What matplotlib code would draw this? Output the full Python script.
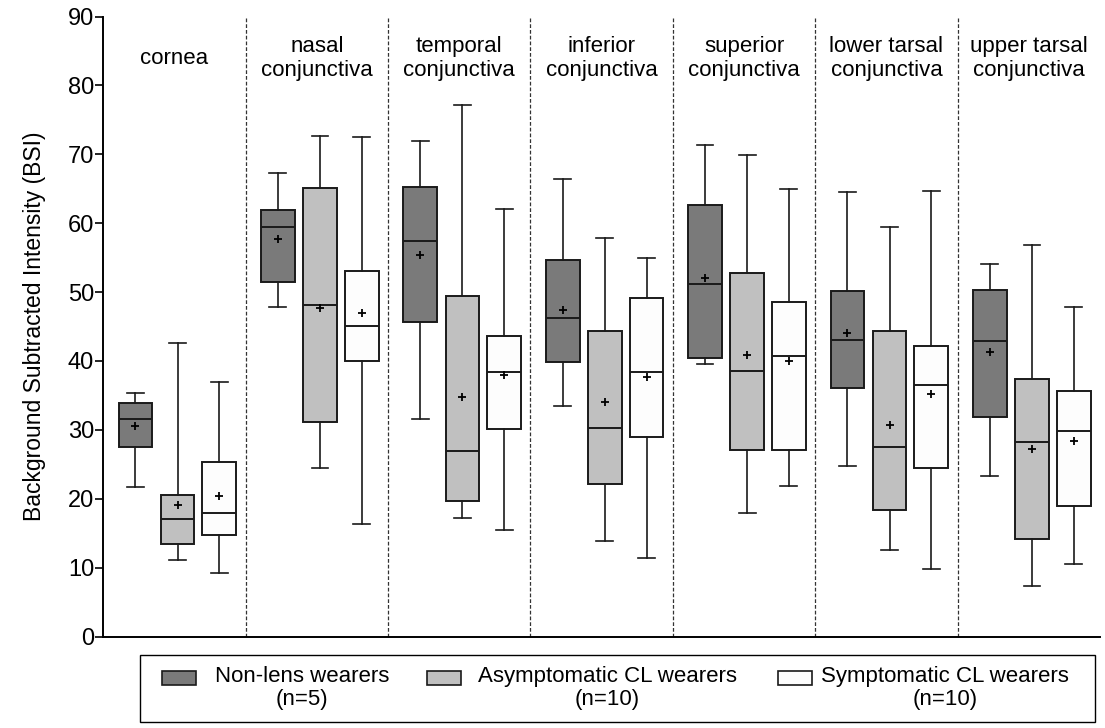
import matplotlib
matplotlib.use("Agg")
import matplotlib.pyplot as plt
from matplotlib.patches import Rectangle

plt.rcParams['font.family'] = ['Liberation Sans', 'DejaVu Sans']

regions = ["cornea", "nasal\nconjunctiva", "temporal\nconjunctiva", "inferior\nconjunctiva",
           "superior\nconjunctiva", "lower tarsal\nconjunctiva", "upper tarsal\nconjunctiva"]

series_names = ["Non-lens wearers\n(n=5)", "Asymptomatic CL wearers\n(n=10)", "Symptomatic CL wearers\n(n=10)"]
series_colors = ["#7a7a7a", "#c0c0c0", "#fdfdfd"]

# Non-lens wearers
nl_low  = [21.7, 47.8, 31.6, 33.4, 39.5, 24.8, 23.3]
nl_q1   = [27.5, 51.4, 45.7, 39.9, 40.5, 36.1, 31.8]
nl_med  = [31.6, 59.4, 57.4, 46.2, 51.1, 43.0, 42.9]
nl_q3   = [33.9, 61.9, 65.3, 54.7, 62.7, 50.2, 50.3]
nl_high = [35.4, 67.3, 71.9, 66.4, 71.4, 64.5, 54.1]
nl_mean = [30.5, 57.7, 55.4, 47.4, 52.0, 44.1, 41.3]

# Asymptomatic CL wearers
as_low  = [11.1, 24.5, 17.2, 13.9, 17.9, 12.6, 7.3]
as_q1   = [13.5, 31.1, 19.6, 22.2, 27.1, 18.3, 14.1]
as_med  = [17.1, 48.1, 27.0, 30.3, 38.6, 27.5, 28.3]
as_q3   = [20.6, 65.1, 49.5, 44.4, 52.8, 44.3, 37.4]
as_high = [42.6, 72.6, 77.2, 57.8, 69.9, 59.4, 56.8]
as_mean = [19.1, 47.7, 34.8, 34.1, 40.9, 30.7, 27.2]

# Symptomatic CL wearers
sy_low  = [9.2, 16.3, 15.5, 11.4, 21.8, 9.8, 10.5]
sy_q1   = [14.8, 40.0, 30.1, 29.0, 27.1, 24.4, 18.9]
sy_med  = [18.0, 45.1, 38.4, 38.4, 40.7, 36.5, 29.9]
sy_q3   = [25.3, 53.0, 43.6, 49.2, 48.6, 42.1, 35.6]
sy_high = [37.0, 72.5, 62.0, 55.0, 64.9, 64.7, 47.9]
sy_mean = [20.4, 46.9, 37.9, 37.6, 40.0, 35.2, 28.4]

series = [
    (nl_low, nl_q1, nl_med, nl_q3, nl_high, nl_mean),
    (as_low, as_q1, as_med, as_q3, as_high, as_mean),
    (sy_low, sy_q1, sy_med, sy_q3, sy_high, sy_mean),
]

offsets = [0.226, 0.522, 0.815]
box_w = 0.237

fig = plt.figure(figsize=(11.05, 7.28), dpi=100)
ax = fig.add_axes([103.3 / 1105, 1 - 636.5 / 728, (1100 - 103.3) / 1105, 620 / 728])

edge = "#1a1a1a"
for si, (lo, q1, med, q3, hi, mn) in enumerate(series):
    stats = []
    for i in range(len(regions)):
        stats.append(dict(whislo=lo[i], q1=q1[i], med=med[i], q3=q3[i], whishi=hi[i], mean=mn[i], fliers=[]))
    pos = [i + offsets[si] for i in range(len(regions))]
    ax.bxp(stats, positions=pos, widths=box_w, capwidths=box_w * 0.5, patch_artist=True,
           showmeans=True, showfliers=False, manage_ticks=False,
           boxprops=dict(facecolor=series_colors[si], edgecolor=edge, linewidth=1.4),
           medianprops=dict(color=edge, linewidth=1.4),
           whiskerprops=dict(color=edge, linewidth=1.2),
           capprops=dict(color=edge, linewidth=1.2),
           meanprops=dict(marker='+', markeredgecolor='black', markersize=6, markeredgewidth=1.3))

for d in range(1, len(regions)):
    ax.axvline(d, ymin=0, ymax=1, color="#333333", linewidth=0.9, linestyle=(0, (3, 1.6)))

for i, name in enumerate(regions):
    ax.text(i + 0.5, 83.9, name, ha='center', va='center', fontsize=16, linespacing=1.2)

ax.set_xlim(0, len(regions))
ax.set_ylim(0, 90)
ax.set_yticks(range(0, 91, 10))
ax.set_xticks([])
ax.spines['top'].set_visible(False)
ax.spines['right'].set_visible(False)
ax.spines['left'].set_linewidth(1.4)
ax.spines['bottom'].set_linewidth(1.4)
ax.tick_params(axis='y', labelsize=17, length=6, width=1.2, pad=0.6, direction='out')
ax.set_ylabel("Background Subtracted Intensity (BSI)", fontsize=16.5, labelpad=16)

# legend drawn below the axes
def fx(px):
    return px / 1105
def fy(py):
    return 1 - py / 728

fig.add_artist(Rectangle((fx(140), fy(722)), fx(1095) - fx(140), fy(655) - fy(722),
                         transform=fig.transFigure, facecolor='white', edgecolor='black', linewidth=1.0))
patch_x = [162, 427, 778]
text_cx = [302, 607, 945]
for si in range(3):
    fig.add_artist(Rectangle((fx(patch_x[si]), fy(685)), fx(34), 14 / 728, transform=fig.transFigure,
                             facecolor=series_colors[si], edgecolor=edge, linewidth=1.2))
    fig.text(fx(text_cx[si]), fy(688), series_names[si], ha='center', va='center', fontsize=16,
             multialignment='center', linespacing=1.1)

fig.savefig("out.png", dpi=100)
